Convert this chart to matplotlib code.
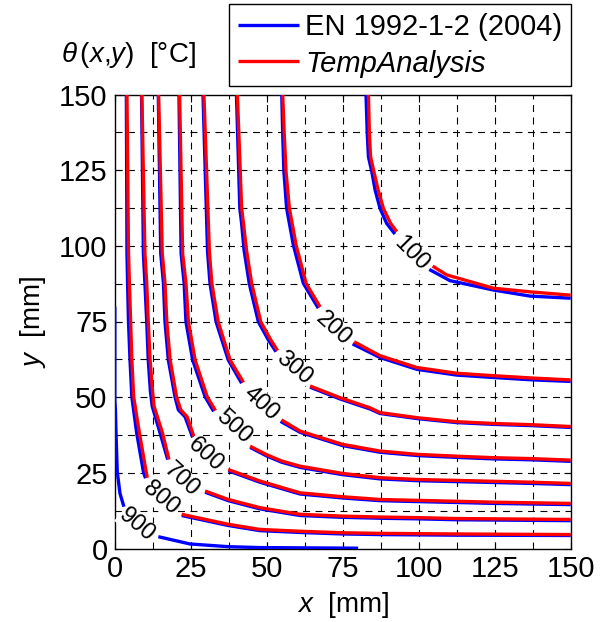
"""Изотермы θ(x,y) в углу сечения: EN 1992-1-2 (2004) против TempAnalysis."""

import matplotlib
matplotlib.use("Agg")
import matplotlib.pyplot as plt

plt.rcParams["font.family"] = ["Liberation Sans", "DejaVu Sans"]
plt.rcParams["mathtext.fontset"] = "custom"
plt.rcParams["mathtext.rm"] = "Liberation Sans"
plt.rcParams["mathtext.it"] = "Liberation Sans:italic"
plt.rcParams["lines.scale_dashes"] = False

# --- Данные, мм --------------------------------------------------------------
LEVELS = [100, 200, 300, 400, 500, 600, 700, 800, 900]

# Вертикальная ветвь изотермы (от y=150 вниз до подписи) — EN 1992-1-2.
EN_UP_X = [
    [82.7, 83.1, 83.5, 84.6, 85.7, 87.3, 89.5, 92.2],
    [55.0, 55.3, 55.7, 56.6, 58.8, 62.1, 67.0],
    [40.1, 41.2, 41.8, 42.6, 44.3, 47.3, 50.6, 53.1],
    [29.1, 30.6, 31.4, 33.4, 37.4, 41.8],
    [21.2, 21.9, 22.9, 23.5, 25.7, 29.8, 32.6],
    [14.4, 15.2, 16.1, 16.6, 17.7, 19.9, 21.0, 23.2, 25.7],
    [8.9, 9.5, 10.0, 10.6, 11.1, 11.8, 12.4, 15.0, 17.5],
    [3.9, 4.1, 4.3, 4.6, 5.1, 5.7, 7.3, 9.5, 10.2],
    [0.1, 0.1, 0.3, 0.5, 0.9, 1.8, 3.1],
]
EN_UP_Y = [
    [150, 137.2, 129.4, 124.5, 118.4, 112.4, 107.4, 103.9],
    [150, 137.2, 124.5, 112.4, 100.3, 87.6, 79.4],
    [150, 112.4, 107.4, 98.6, 87.6, 74.9, 68.9, 65.0],
    [150, 98.0, 87.6, 74.9, 62.3, 54.6],
    [150, 97.5, 87.6, 74.9, 62.3, 50.1, 45.3],
    [150, 97.5, 87.6, 74.9, 62.3, 50.1, 45.8, 43.5, 36.7],
    [150, 97.5, 87.6, 74.9, 62.3, 52.0, 47.0, 38.1, 29.4],
    [150, 98.0, 87.6, 74.9, 62.3, 50.1, 38.1, 25.4, 23.2],
    [79.9, 49.1, 45.8, 38.1, 25.4, 18.2, 13.8],
]
# Горизонтальная ветвь (от подписи до x=150) — EN 1992-1-2.
EN_RT_X = [
    [103.5, 110.3, 124.6, 136.6, 150],
    [78.3, 87.3, 99.4, 112.5, 124.6, 137.7, 150],
    [64.3, 74.2, 84.0, 87.3, 99.7, 112.5, 124.8, 137.2, 150],
    [54.6, 61.0, 75.0, 87.3, 99.7, 112.5, 124.8, 137.2, 150],
    [44.6, 50.0, 55.0, 61.0, 75.0, 87.3, 99.7, 112.5, 124.8, 137.2, 150],
    [37.4, 47.8, 61.0, 75.0, 87.3, 99.7, 112.5, 124.8, 137.2, 150],
    [29.8, 37.4, 47.8, 61.0, 75.0, 87.3, 99.7, 112.5, 124.8, 137.2, 150],
    [22.1, 37.4, 47.8, 61.0, 75.0, 87.3, 112.5, 150],
    [14.4, 24.8, 37.4, 47.8, 80.1],
]
EN_RT_Y = [
    [92.2, 88.5, 85.4, 83.4, 82.7],
    [67.6, 63.1, 59.2, 57.3, 56.5, 55.7, 55.2],
    [53.3, 49.4, 46.1, 44.6, 42.9, 41.6, 41.0, 40.6, 40.0],
    [42.0, 38.4, 34.0, 31.8, 30.7, 30.1, 29.6, 29.3, 28.8],
    [33.4, 30.6, 28.5, 26.8, 24.4, 23.0, 22.4, 22.1, 21.8, 21.5, 21.1],
    [25.7, 21.9, 18.0, 16.7, 15.8, 15.5, 15.2, 14.9, 14.7, 14.5],
    [18.6, 15.8, 13.1, 10.9, 10.3, 10.0, 9.8, 9.5, 9.4, 9.3, 9.2],
    [10.9, 7.6, 5.9, 5.3, 4.8, 4.6, 4.4, 4.3],
    [3.9, 1.5, 0.6, 0.3, 0.1],
]

# То же — TempAnalysis (изотермы 900 нет).
TA_UP_X = [
    [83.5, 83.8, 84.2, 85.3, 86.7, 88.4, 90.8, 92.8],
    [55.3, 55.8, 56.4, 57.5, 59.7, 63.0, 67.6],
    [40.4, 41.8, 42.4, 43.4, 45.1, 48.1, 51.4, 53.6],
    [29.4, 31.2, 32.0, 34.1, 38.0, 42.4],
    [21.4, 22.4, 23.5, 24.3, 26.5, 30.5, 33.2],
    [14.5, 15.7, 16.6, 17.2, 18.3, 20.4, 21.8, 23.9, 26.1],
    [9.0, 10.0, 10.6, 11.1, 11.7, 12.5, 13.0, 15.8, 17.9],
    [4.1, 4.6, 4.9, 5.3, 5.7, 6.3, 8.2, 10.4, 10.8],
    [],
]
TA_UP_Y = [
    [150, 137.2, 129.4, 124.5, 118.4, 112.4, 107.4, 104.7],
    [150, 137.2, 124.5, 112.4, 100.3, 87.6, 79.8],
    [150, 112.4, 107.4, 98.6, 87.6, 74.9, 68.9, 65.4],
    [150, 98.0, 87.6, 74.9, 62.3, 54.9],
    [150, 97.5, 87.6, 74.9, 62.3, 50.1, 45.6],
    [150, 97.5, 87.6, 74.9, 62.3, 50.1, 45.8, 43.5, 37.0],
    [150, 97.5, 87.6, 74.9, 62.3, 52.0, 47.0, 38.1, 29.4],
    [150, 98.0, 87.6, 74.9, 62.3, 50.1, 38.1, 25.4, 23.4],
    [],
]
TA_RT_X = [
    [104.6, 109.2, 124.6, 136.6, 150],
    [78.8, 87.3, 99.4, 112.5, 124.6, 137.7, 150],
    [64.3, 74.2, 84.0, 87.3, 99.7, 112.5, 124.8, 137.2, 150],
    [54.9, 61.0, 75.0, 87.3, 99.7, 112.5, 124.8, 137.2, 150],
    [44.6, 50.0, 55.0, 61.0, 75.0, 87.3, 99.7, 112.5, 124.8, 137.2, 150],
    [37.4, 47.8, 61.0, 75.0, 87.3, 99.7, 112.5, 124.8, 137.2, 150],
    [29.8, 37.4, 47.8, 61.0, 75.0, 87.3, 99.7, 112.5, 124.8, 137.2, 150],
    [22.1, 37.4, 47.8, 61.0, 75.0, 87.3, 112.5, 150],
    [],
]
TA_RT_Y = [
    [93.3, 90.4, 86.0, 84.8, 83.7],
    [68.3, 63.7, 59.8, 57.9, 57.1, 56.3, 55.7],
    [53.7, 49.8, 46.5, 44.9, 43.2, 41.9, 41.3, 40.9, 40.3],
    [42.5, 38.8, 34.4, 32.2, 31.1, 30.5, 30.0, 29.7, 29.2],
    [33.8, 31.0, 28.9, 27.2, 24.8, 23.4, 22.8, 22.5, 22.2, 21.9, 21.5],
    [26.1, 22.3, 18.4, 17.1, 16.2, 15.9, 15.6, 15.3, 15.1, 14.9],
    [19.0, 16.2, 13.5, 11.3, 10.7, 10.4, 10.2, 9.9, 9.8, 9.7, 9.6],
    [11.3, 8.0, 6.3, 5.7, 5.2, 5.0, 4.8, 4.6],
    [],
]

# Подписи изотерм (центр на диагонали) и их наклон.
LABEL_X = [97.7, 72.0, 59.0, 48.1, 39.1, 29.8, 22.1, 15.2, 7.5]
LABEL_Y = [97.5, 72.7, 59.5, 48.0, 40.2, 30.9, 22.6, 16.6, 7.8]
LABEL_ROT = [-45, -42, -40, -42, -42, -42, -42, -40, -40]

TICKS = [0, 25, 50, 75, 100, 125, 150]
GRID = [12.5 * i for i in range(1, 12)]

fig = plt.figure(figsize=(6.0, 6.22), dpi=100)
ax = fig.add_axes([114.5 / 600, 73.5 / 622, 456.2 / 600, 454 / 622])

# Сетка: штриховые линии через 12.5 мм.
for g in GRID:
    ax.axvline(g, color="k", lw=0.8, ls=(0, (5, 4)), zorder=1)
    ax.axhline(g, color="k", lw=0.8, ls=(0, (5, 4)), zorder=1)

# Изотермы: сначала EN (синие), поверх TempAnalysis (красные).
for i in range(len(LEVELS)):
    ax.plot(EN_UP_X[i], EN_UP_Y[i], color="#0000ff", lw=2.4, zorder=3,
            solid_capstyle="butt", label="EN 1992-1-2 (2004)" if i == 0 else None)
    ax.plot(EN_RT_X[i], EN_RT_Y[i], color="#0000ff", lw=2.4, zorder=3, solid_capstyle="butt")
for i in range(len(LEVELS)):
    if TA_UP_X[i]:
        ax.plot(TA_UP_X[i], TA_UP_Y[i], color="#ff0000", lw=2.4, zorder=4,
                solid_capstyle="butt", label="TempAnalysis" if i == 0 else None)
        ax.plot(TA_RT_X[i], TA_RT_Y[i], color="#ff0000", lw=2.4, zorder=4, solid_capstyle="butt")

for lev, lx, ly, rot in zip(LEVELS, LABEL_X, LABEL_Y, LABEL_ROT):
    ax.text(lx, ly, str(lev), fontsize=17, rotation=rot, rotation_mode="anchor",
            ha="center", va="center", zorder=5,
            bbox=dict(facecolor="white", edgecolor="none", pad=0.5))

ax.set_xlim(0, 150)
ax.set_ylim(0, 150)
ax.set_xticks(TICKS)
ax.set_yticks(TICKS)
ax.tick_params(direction="in", length=5, width=0.8, top=True, right=True, labelsize=21)
ax.tick_params(axis="x", pad=5)
ax.tick_params(axis="y", pad=5)
for sp in ax.spines.values():
    sp.set_linewidth(1.0)

ax.set_xlabel(r"$x$  [mm]", fontsize=20, labelpad=5)
ax.set_ylabel(r"$y$  [mm]", fontsize=20, labelpad=8)
fig.text(61 / 600, 1 - 55 / 622, r"$\theta\,(x{,}y)$  [°C]", fontsize=20, va="center", ha="left")

leg = ax.legend(loc="upper right", bbox_to_anchor=(571 / 600, 1 - 4 / 622),
                bbox_transform=fig.transFigure, borderaxespad=0, fontsize=21,
                handlelength=2.1, handletextpad=0.2, borderpad=0.3, labelspacing=0.3,
                fancybox=False, framealpha=1, edgecolor="k")
leg.get_frame().set_linewidth(1.0)
leg.get_texts()[1].set_fontstyle("italic")

fig.savefig("out.png", dpi=100)
